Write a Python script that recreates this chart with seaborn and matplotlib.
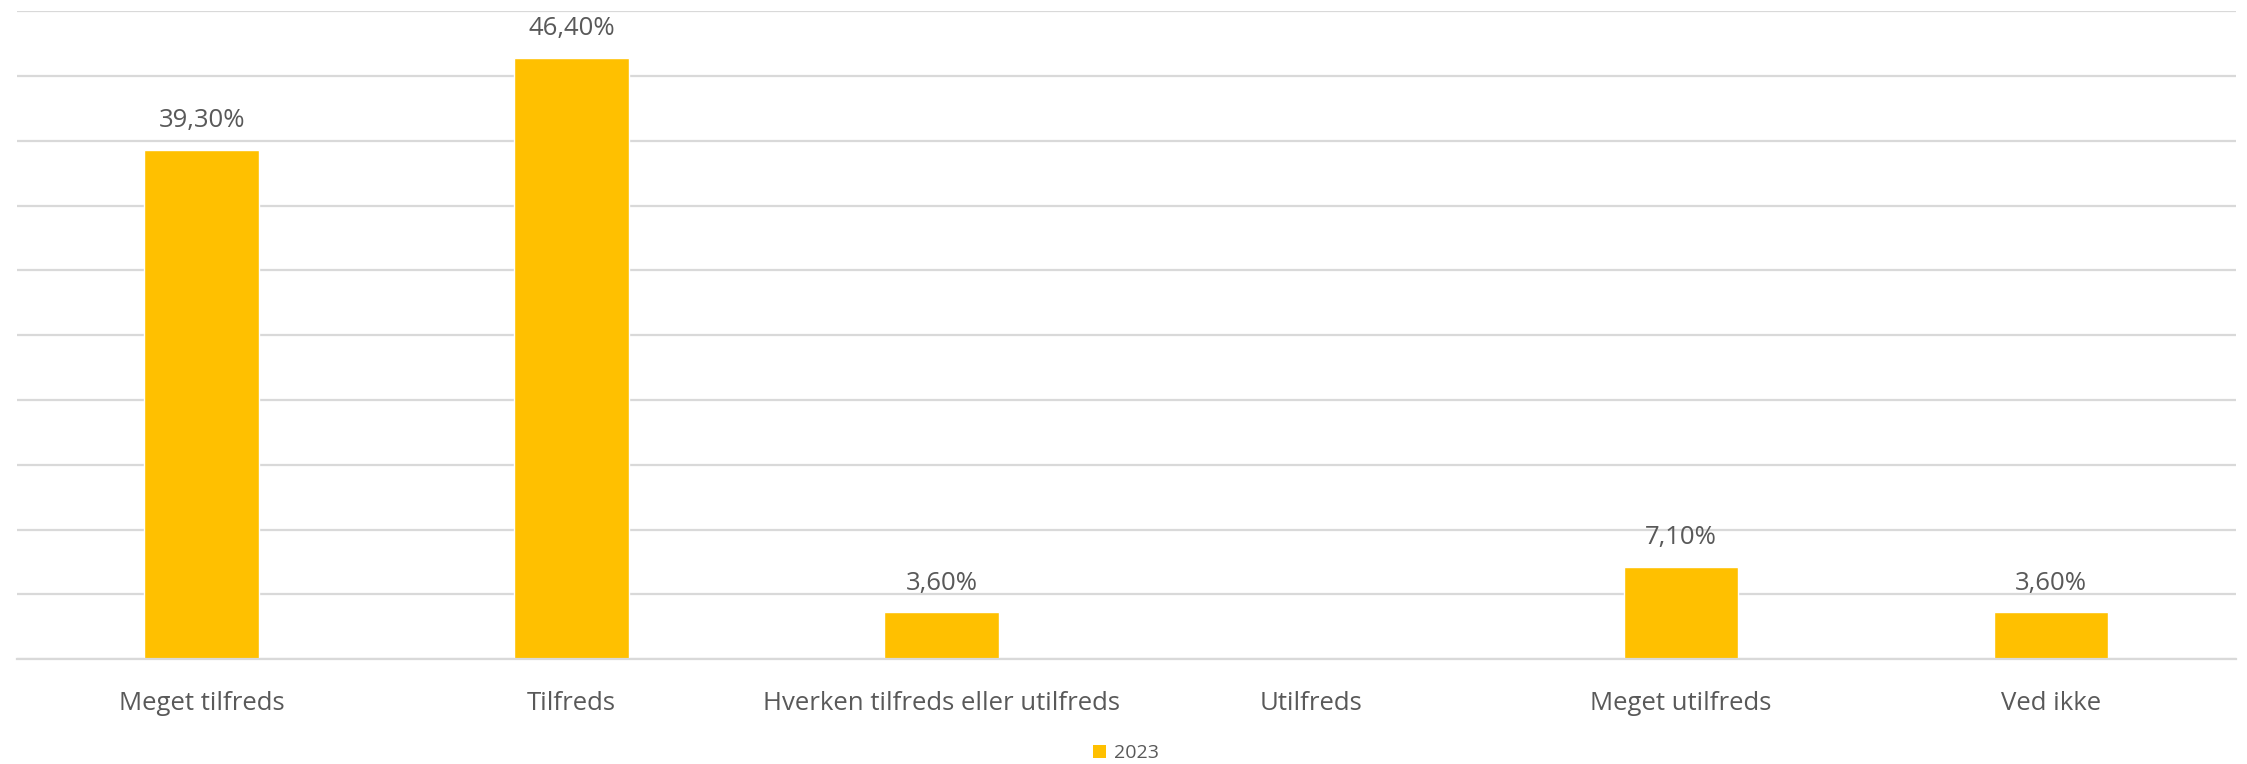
import numpy as np
import pandas as pd
import matplotlib
matplotlib.use("Agg")
import matplotlib.pyplot as plt
import seaborn as sns
from matplotlib.patches import Patch

categories = ["Meget tilfreds", "Tilfreds", "Hverken tilfreds eller utilfreds",
              "Utilfreds", "Meget utilfreds", "Ved ikke"]
values_2023 = [39.3, 46.4, 3.6, np.nan, 7.1, 3.6]
series_name = "2023"
y_ticks = [0, 5, 10, 15, 20, 25, 30, 35, 40, 45, 50]

sns.set_theme(style="white")
plt.rcParams['font.family'] = ['Open Sans', 'DejaVu Sans']

df = pd.DataFrame({"cat": categories, "val": values_2023})

fig = plt.figure(figsize=(22.47, 7.64), dpi=100)
ax = fig.add_axes([0.0075, 0.1374, 0.9875, 0.8476])

bar_color = "#FFC000"
text_color = "#595959"
grid_color = "#D9D9D9"

sns.barplot(data=df, x="cat", y="val", order=categories, color=bar_color,
            width=0.31, saturation=1, ax=ax, errorbar=None)

ax.set_ylim(0, 50)
ax.set_xlim(-0.5, len(categories) - 0.5)
ax.set_yticks(y_ticks)
ax.yaxis.grid(True, color=grid_color, linewidth=1.6)
ax.set_axisbelow(True)
ax.tick_params(axis='y', left=False, labelleft=False)
ax.tick_params(axis='x', bottom=False, labelsize=18.5, labelcolor=text_color, pad=17)
ax.set_xlabel("")
ax.set_ylabel("")
for s in ["top", "right", "left"]:
    ax.spines[s].set_visible(False)
ax.spines["bottom"].set_color(grid_color)
ax.spines["bottom"].set_linewidth(1.6)

for i, v in enumerate(values_2023):
    if np.isnan(v):
        continue
    ax.annotate(f"{v:.2f}%".replace(".", ","), xy=(i, v), xytext=(0, 21),
                textcoords="offset points", ha="center", va="center",
                fontsize=18.5, color=text_color)

handles = [Patch(facecolor=bar_color, edgecolor='none', label=series_name)]
fig.legend(handles=handles, loc="center", bbox_to_anchor=(0.501, 0.014),
           frameon=False, fontsize=14, labelcolor=text_color,
           handlelength=0.7, handleheight=0.7, handletextpad=0.4)

fig.savefig("out.png", dpi=100, facecolor="white")
